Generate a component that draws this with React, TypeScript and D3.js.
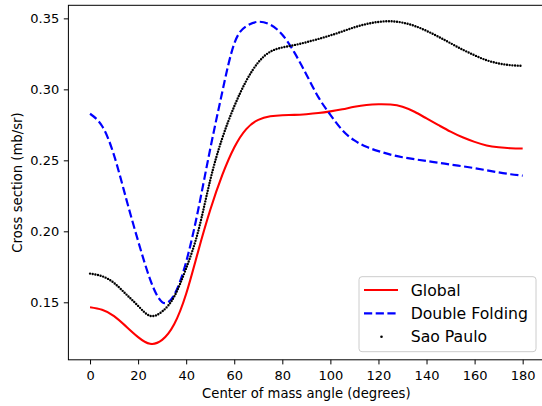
import React, { useRef, useEffect } from "react";
import * as d3 from "d3";

// angle grid (degrees) shared by all three series
const angles = [
  0, 5, 10, 15, 20, 25, 30, 35, 40, 45, 50, 55, 60, 65, 70, 75, 80, 85, 90,
  95, 100, 105, 110, 115, 120, 125, 130, 135, 140, 145, 150, 155, 160, 165,
  170, 175, 180,
];

const globalXs = [
  0.1465, 0.1447, 0.1403, 0.133, 0.1255, 0.1208, 0.1235, 0.1345, 0.156, 0.186,
  0.215, 0.2395, 0.259, 0.272, 0.2785, 0.281, 0.2818, 0.282, 0.2825, 0.2833,
  0.2845, 0.286, 0.2877, 0.289, 0.2895, 0.2893, 0.2878, 0.2842, 0.2795, 0.2748,
  0.2702, 0.2662, 0.263, 0.2605, 0.2592, 0.2585, 0.2583,
];

const doubleFoldingXs = [
  0.2828, 0.2742, 0.2535, 0.2232, 0.1932, 0.1662, 0.1502, 0.1552, 0.1785, 0.2152,
  0.258, 0.298, 0.3322, 0.3445, 0.3476, 0.3455, 0.3385, 0.326, 0.3105, 0.2945,
  0.282, 0.2712, 0.264, 0.2595, 0.2565, 0.254, 0.2522, 0.2508, 0.2495, 0.2483,
  0.247, 0.2458, 0.2445, 0.243, 0.2415, 0.2402, 0.2392,
];

const saoPauloXs = [
  0.1702, 0.1684, 0.1636, 0.1557, 0.1475, 0.1405, 0.1435, 0.154, 0.174, 0.2,
  0.236, 0.2655, 0.288, 0.306, 0.319, 0.3265, 0.3295, 0.3312, 0.3332, 0.3355,
  0.338, 0.3408, 0.3437, 0.346, 0.3475, 0.348, 0.347, 0.3447, 0.3412, 0.337,
  0.3325, 0.328, 0.324, 0.3205, 0.3183, 0.317, 0.3166,
];

const xTicks = [0, 20, 40, 60, 80, 100, 120, 140, 160, 180];
const yTicks = [0.15, 0.2, 0.25, 0.3, 0.35];

const legendLabels = ["Global", "Double Folding", "Sao Paulo"];

const FONT = "'DejaVu Sans', sans-serif";

const App = () => {
  const ref = useRef(null);

  useEffect(() => {
    if (!ref.current) return;
    const svg = d3.select(ref.current);
    svg.selectAll("*").remove();

    const left = 68.4,
      right = 544.3,
      top = 5.3,
      bottom = 359.8;

    const x = d3.scaleLinear().domain([-9, 189]).range([left, right]);
    const y = d3.scaleLinear().domain([0.1095, 0.3592]).range([bottom, top]);

    const line = d3
      .line()
      .x((d) => x(d[0]))
      .y((d) => y(d[1]))
      .curve(d3.curveNatural);

    const series = (vals) => angles.map((a, i) => [a, vals[i]]);

    // curves
    svg
      .append("path")
      .attr("d", line(series(globalXs)))
      .attr("fill", "none")
      .attr("stroke", "#ff0000")
      .attr("stroke-width", 2.1);

    svg
      .append("path")
      .attr("d", line(series(doubleFoldingXs)))
      .attr("fill", "none")
      .attr("stroke", "#0000ff")
      .attr("stroke-width", 2.2)
      .attr("stroke-dasharray", "8.2 3.5");

    svg
      .append("path")
      .attr("d", line(series(saoPauloXs)))
      .attr("fill", "none")
      .attr("stroke", "#000")
      .attr("stroke-width", 2.4)
      .attr("stroke-linecap", "round")
      .attr("stroke-dasharray", "0 2.7");

    // axes
    const xAxis = svg
      .append("g")
      .attr("transform", `translate(0,${bottom})`)
      .call(
        d3
          .axisBottom(x)
          .tickValues(xTicks)
          .tickSize(4.6)
          .tickSizeOuter(0)
          .tickPadding(6.2)
      );
    const yAxis = svg
      .append("g")
      .attr("transform", `translate(${left},0)`)
      .call(
        d3
          .axisLeft(y)
          .tickValues(yTicks)
          .tickFormat(d3.format(".2f"))
          .tickSize(4.6)
          .tickSizeOuter(0)
          .tickPadding(4.5)
      );
    [xAxis, yAxis].forEach((g) => {
      g.select(".domain").remove();
      g.selectAll("line").attr("stroke", "#000").attr("stroke-width", 1);
      g.selectAll("text")
        .attr("fill", "#000")
        .style("font-family", FONT)
        .style("font-size", "13px");
    });

    // frame
    svg
      .append("rect")
      .attr("x", left)
      .attr("y", top)
      .attr("width", right - left)
      .attr("height", bottom - top)
      .attr("fill", "none")
      .attr("stroke", "#000")
      .attr("stroke-width", 1);

    // axis labels
    svg
      .append("text")
      .attr("x", (left + right) / 2)
      .attr("y", 398.3)
      .attr("text-anchor", "middle")
      .style("font-family", FONT)
      .style("font-size", "13.2px")
      .text("Center of mass angle (degrees)");

    svg
      .append("text")
      .attr("transform", `translate(21.5,${(top + bottom) / 2}) rotate(-90)`)
      .attr("text-anchor", "middle")
      .style("font-family", FONT)
      .style("font-size", "13.2px")
      .text("Cross section (mb/sr)");

    // legend
    const lg = svg.append("g");
    lg.append("rect")
      .attr("x", 359)
      .attr("y", 276.7)
      .attr("width", 177)
      .attr("height", 75)
      .attr("rx", 3)
      .attr("fill", "#fff")
      .attr("fill-opacity", 0.8)
      .attr("stroke", "#cccccc")
      .attr("stroke-width", 1);

    const rowY = (i) => 290 + i * 23.35;
    lg.append("line")
      .attr("x1", 364)
      .attr("x2", 398)
      .attr("y1", rowY(0))
      .attr("y2", rowY(0))
      .attr("stroke", "#ff0000")
      .attr("stroke-width", 2.1);
    lg.append("line")
      .attr("x1", 364)
      .attr("x2", 398)
      .attr("y1", rowY(1))
      .attr("y2", rowY(1))
      .attr("stroke", "#0000ff")
      .attr("stroke-width", 2.2)
      .attr("stroke-dasharray", "8.2 3.5");
    lg.append("circle")
      .attr("cx", 381.5)
      .attr("cy", rowY(2))
      .attr("r", 1.3)
      .attr("fill", "#000");

    lg.selectAll("text.lab")
      .data(legendLabels)
      .enter()
      .append("text")
      .attr("class", "lab")
      .attr("x", 410.7)
      .attr("y", (d, i) => rowY(i) + 5.6)
      .style("font-family", FONT)
      .style("font-size", "15.7px")
      .text((d) => d);
  }, []);

  return (
    <svg
      ref={ref}
      width={542}
      height={406}
      style={{ position: "absolute", left: 0, top: 0, background: "#fff" }}
    />
  );
};

export default App;
